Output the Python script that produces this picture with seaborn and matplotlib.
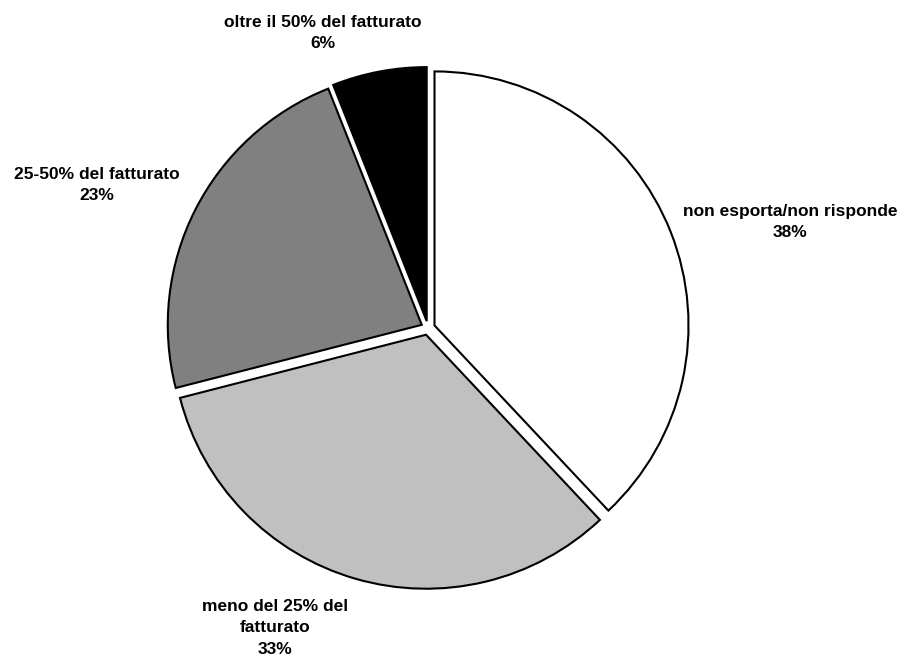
import matplotlib
matplotlib.use("Agg")
import matplotlib.pyplot as plt
import seaborn as sns

# ---- data ----
categories = ["non esporta/non risponde", "meno del 25% del\nfatturato",
              "25-50% del fatturato", "oltre il 50% del fatturato"]
shares = [38, 33, 23, 6]
colors = ["#ffffff", "#c0c0c0", "#808080", "#000000"]

sns.set_theme(style="white")
plt.rcParams['font.family'] = ['Liberation Sans', 'DejaVu Sans']

W, H = 902, 659
fig = plt.figure(figsize=(W / 100, H / 100), dpi=100)
ax = fig.add_axes([0, 0, 1, 1])

# explode is in data units here (radius is in pixels)
ax.pie(shares, colors=colors, startangle=90, counterclock=False,
       center=(428, H - 328), radius=254, explode=[7] * len(shares),
       wedgeprops=dict(edgecolor="black", linewidth=1.5, joinstyle="miter"))
ax.set_xlim(0, W)
ax.set_ylim(0, H)
ax.set_aspect("equal")
ax.axis("off")

# label anchors (pixel coords, top-left origin)
label_pos = [(790, 222), (275, 628), (97, 185), (323, 33)]
for cat, val, (x, y) in zip(categories, shares, label_pos):
    ax.text(x, H - y, f"{cat}\n{val}%", ha="center", va="center",
            fontsize=12.5, fontweight="bold", linespacing=1.55, color="black")

fig.savefig("out.png", dpi=100, facecolor="white")
